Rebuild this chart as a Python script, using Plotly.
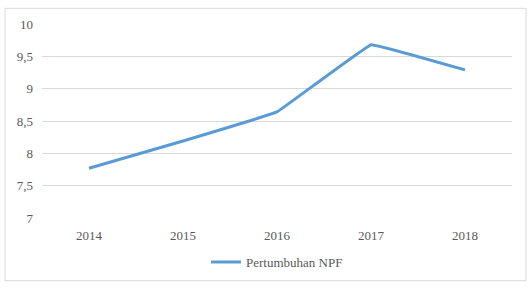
import plotly.graph_objects as go

years = ["2014", "2015", "2016", "2017", "2018"]
npf = [7.77, 8.19, 8.64, 9.68, 9.29]
y_tickvals = [7, 7.5, 8, 8.5, 9, 9.5, 10]
y_ticktext = ["7", "7,5", "8", "8,5", "9", "9,5", "10"]
series_name = "Pertumbuhan NPF"

FONT = "'Times New Roman', 'Liberation Serif', 'DejaVu Serif', serif"

fig = go.Figure()
fig.add_trace(go.Scatter(
    x=years, y=npf, mode="lines", name=series_name,
    line=dict(color="#5B9BD5", width=3, shape="spline", smoothing=0.12),
))

fig.update_layout(
    width=530, height=289,
    margin=dict(l=42, r=18, t=24, b=67),
    paper_bgcolor="white", plot_bgcolor="white",
    font=dict(family=FONT, size=13, color="#595959"),
    showlegend=True,
    legend=dict(orientation="h", x=0.5, xanchor="center", y=-0.227, yanchor="middle",
                font=dict(family=FONT, size=13, color="#595959")),
    xaxis=dict(type="category", range=[-0.5, 4.5], showgrid=False, showline=False,
               zeroline=False, ticks="", ticklabelstandoff=8,
               tickfont=dict(family=FONT, size=13, color="#595959")),
    yaxis=dict(range=[7, 10], tickvals=y_tickvals, ticktext=y_ticktext,
               showgrid=True, gridcolor="#D9D9D9", gridwidth=1, zeroline=False,
               showline=False, ticks="", ticklabelstandoff=8,
               tickfont=dict(family=FONT, size=13, color="#595959")),
    shapes=[dict(type="rect", xref="paper", yref="paper",
                 x0=-0.0787, x1=1.0298, y0=-0.323, y1=1.0808,
                 line=dict(color="#D9D9D9", width=1), fillcolor="rgba(0,0,0,0)")],
)

fig.write_html("out.html")
